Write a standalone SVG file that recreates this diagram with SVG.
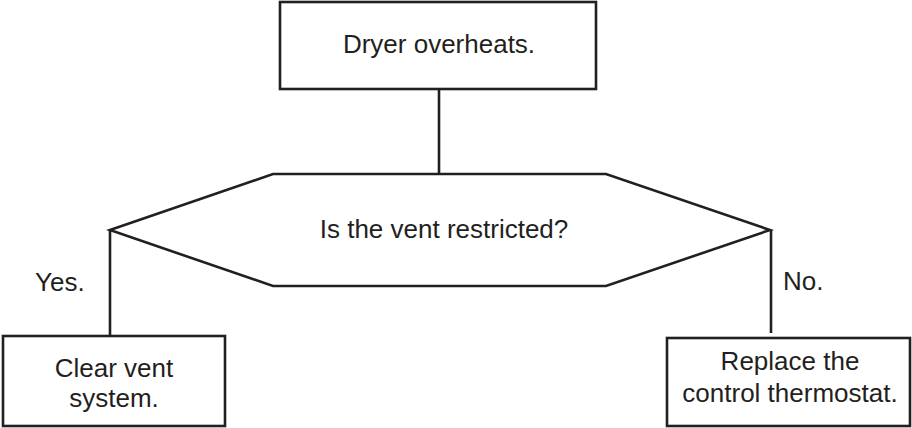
<svg xmlns="http://www.w3.org/2000/svg" width="912" height="428" viewBox="0 0 912 428">
<style>
.s{fill:#fff;stroke:#231f20;stroke-width:2.6}
.c{fill:none;stroke:#231f20;stroke-width:2.6}
text{font-family:"Liberation Sans",Arial,sans-serif;font-size:26px;fill:#231f20}
.m{text-anchor:middle}
</style>
<rect width="912" height="428" fill="#fff"/>
<g id="connectors">
<line class="c" x1="439" y1="89" x2="439" y2="174"/>
<line class="c" x1="110" y1="230" x2="110" y2="336"/>
<line class="c" x1="771" y1="230" x2="771" y2="333"/>
<text x="35" y="291">Yes.</text>
<text x="783" y="290">No.</text>
</g>
<g id="start">
<rect class="s" x="280" y="2" width="316" height="87"/>
<text class="m" x="439" y="53">Dryer overheats.</text>
</g>
<g id="decision">
<polygon class="s" points="110,230 273,174 606,174 770,230 606,286 273,286"/>
<text class="m" x="444" y="238">Is the vent restricted?</text>
</g>
<g id="clear">
<rect class="s" x="3" y="336" width="222" height="90"/>
<text class="m" x="114" y="377">Clear vent</text>
<text class="m" x="114" y="407">system.</text>
</g>
<g id="replace">
<rect class="s" x="667" y="338" width="243" height="88"/>
<text class="m" x="790" y="370">Replace the</text>
<text class="m" x="790" y="402">control thermostat.</text>
</g>
</svg>
